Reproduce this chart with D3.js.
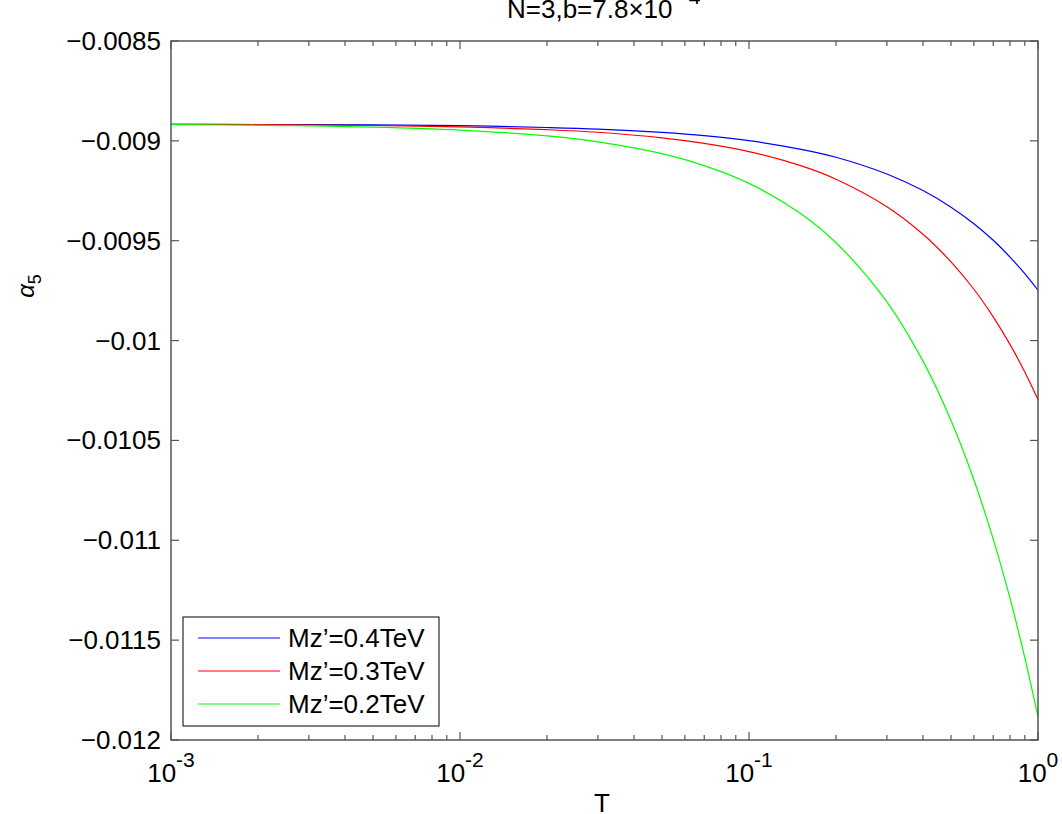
<!DOCTYPE html>
<html>
<head>
<meta charset="utf-8">
<script src="https://cdn.jsdelivr.net/npm/d3@7"></script>
<style>
  body { margin: 0; background: #fff; }
  text { font-family: "Liberation Sans", Arial, sans-serif; fill: #000; }
</style>
</head>
<body>
<svg id="chart" width="1062" height="814"></svg>
<script>
// temperatures the curves were read at
var temps = [0.001, 0.002, 0.005, 0.01, 0.02, 0.03, 0.05, 0.07, 0.1, 0.15,
             0.2, 0.3, 0.4, 0.5, 0.6, 0.7, 0.8, 0.9, 1.0];

// alpha_5 for each Mz'
var mz04 = [-0.008917, -0.008918, -0.008920, -0.008924, -0.008933, -0.008941, -0.008958, -0.008974,
            -0.008999, -0.009041, -0.009082, -0.009166, -0.009249, -0.009332, -0.009415, -0.009498,
            -0.009582, -0.009665, -0.009748];
var mz03 = [-0.008917, -0.008919, -0.008923, -0.008930, -0.008944, -0.008957, -0.008985, -0.009013,
            -0.009054, -0.009123, -0.009192, -0.009330, -0.009468, -0.009606, -0.009743, -0.009881,
            -0.010019, -0.010157, -0.010295];
var mz02 = [-0.008919, -0.008922, -0.008931, -0.008946, -0.008975, -0.009005, -0.009064, -0.009124,
            -0.009213, -0.009361, -0.009510, -0.009806, -0.010103, -0.010400, -0.010697, -0.010994,
            -0.011290, -0.011587, -0.011884];

var seriesNames = ["Mz\u2019=0.4TeV", "Mz\u2019=0.3TeV", "Mz\u2019=0.2TeV"];
var seriesColors = ["#0000ff", "#ff0000", "#00ff00"];

var yTicks = [-0.0085, -0.009, -0.0095, -0.01, -0.0105, -0.011, -0.0115, -0.012];
var yTickLabels = ["\u22120.0085", "\u22120.009", "\u22120.0095", "\u22120.01", "\u22120.0105", "\u22120.011", "\u22120.0115", "\u22120.012"];
var xTicks = [0.001, 0.01, 0.1, 1];
var xTickExps = ["-3", "-2", "-1", "0"];

(function () {
  var mLeft = 171, mRight = 1038, mTop = 41, mBottom = 740;
  var axisColor = "#555";
  var fs = "26px";

  var svg = d3.select("#chart");

  var x = d3.scaleLog().domain([0.001, 1]).range([mLeft, mRight]);
  var y = d3.scaleLinear().domain([-0.012, -0.0085]).range([mBottom, mTop]);

  // curves
  var line = d3.line()
    .x(function (d) { return x(d[0]); })
    .y(function (d) { return y(d[1]); })
    .curve(d3.curveCatmullRom.alpha(0.5));

  [mz04, mz03, mz02].forEach(function (vals, i) {
    svg.append("path")
      .datum(temps.map(function (t, j) { return [t, vals[j]]; }))
      .attr("fill", "none")
      .attr("stroke", seriesColors[i])
      .attr("stroke-width", 1.2)
      .attr("d", line);
  });

  // frame
  svg.append("rect")
    .attr("x", mLeft).attr("y", mTop)
    .attr("width", mRight - mLeft).attr("height", mBottom - mTop)
    .attr("fill", "none").attr("stroke", axisColor).attr("stroke-width", 1.5);

  // y ticks, inward on both sides
  var g = svg.append("g").attr("stroke", axisColor).attr("stroke-width", 1.2);
  yTicks.forEach(function (v) {
    g.append("line").attr("x1", mLeft).attr("x2", mLeft + 8).attr("y1", y(v)).attr("y2", y(v));
    g.append("line").attr("x1", mRight).attr("x2", mRight - 8).attr("y1", y(v)).attr("y2", y(v));
  });
  svg.selectAll(".ylab")
    .data(yTicks)
    .enter()
    .append("text")
    .attr("class", "ylab")
    .attr("x", mLeft - 10)
    .attr("y", function (d) { return y(d) + 9; })
    .attr("text-anchor", "end")
    .style("font-size", fs)
    .text(function (d, i) { return yTickLabels[i]; });

  // x ticks, major and minor (log)
  var minor = [];
  [0.001, 0.01, 0.1].forEach(function (dec) {
    for (var k = 2; k <= 9; k++) minor.push(dec * k);
  });
  xTicks.forEach(function (v) {
    g.append("line").attr("x1", x(v)).attr("x2", x(v)).attr("y1", mBottom).attr("y2", mBottom - 8);
    g.append("line").attr("x1", x(v)).attr("x2", x(v)).attr("y1", mTop).attr("y2", mTop + 8);
  });
  minor.forEach(function (v) {
    g.append("line").attr("x1", x(v)).attr("x2", x(v)).attr("y1", mBottom).attr("y2", mBottom - 5);
    g.append("line").attr("x1", x(v)).attr("x2", x(v)).attr("y1", mTop).attr("y2", mTop + 5);
  });

  var xl = svg.selectAll(".xlab")
    .data(xTicks)
    .enter()
    .append("text")
    .attr("class", "xlab")
    .attr("x", function (d) { return x(d); })
    .attr("y", 782)
    .attr("text-anchor", "middle")
    .style("font-size", fs);
  xl.append("tspan").text("10");
  xl.append("tspan")
    .attr("dy", -15)
    .style("font-size", "21px")
    .text(function (d, i) { return xTickExps[i]; });

  // axis titles
  svg.append("text")
    .attr("x", 602).attr("y", 812)
    .attr("text-anchor", "middle")
    .style("font-size", fs)
    .text("T");

  var yl = svg.append("text")
    .attr("transform", "translate(34,286) rotate(-90)")
    .attr("text-anchor", "middle")
    .style("font-size", "24px");
  yl.append("tspan").style("font-style", "italic").text("\u03b1");
  yl.append("tspan").attr("dy", 7).style("font-size", "18px").text("5");

  var title = svg.append("text")
    .attr("x", 507).attr("y", 18)
    .style("font-size", fs);
  title.append("tspan").text("N=3,b=7.8\u00d710");
  title.append("tspan").attr("dx", 4).attr("dy", -14).style("font-size", "21px").text("\u22124");

  // legend
  var lg = svg.append("g");
  lg.append("rect")
    .attr("x", 183).attr("y", 617)
    .attr("width", 256).attr("height", 109)
    .attr("fill", "#fff").attr("stroke", "#000").attr("stroke-width", 1);
  seriesNames.forEach(function (name, i) {
    var ly = 638 + i * 33;
    lg.append("line")
      .attr("x1", 198).attr("x2", 280)
      .attr("y1", ly).attr("y2", ly)
      .attr("stroke", seriesColors[i]).attr("stroke-width", 1.2);
    lg.append("text")
      .attr("x", 288).attr("y", ly + 9)
      .style("font-size", fs)
      .text(name);
  });
})();
</script>
</body>
</html>
